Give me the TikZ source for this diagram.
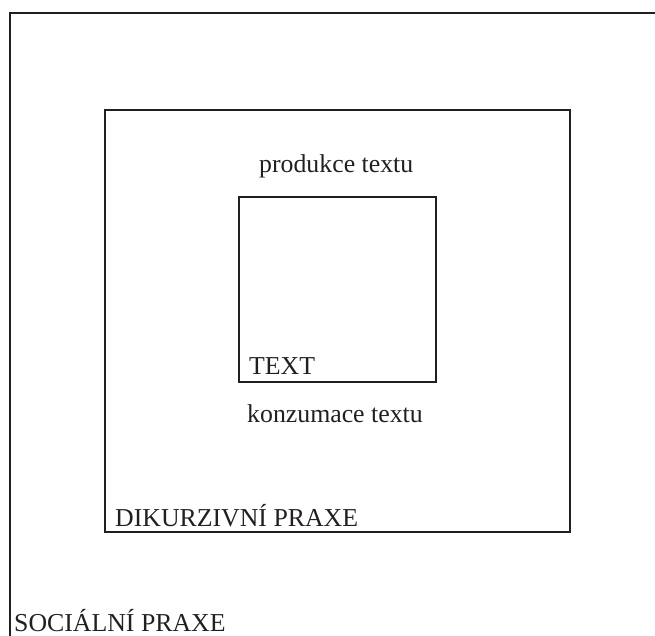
\documentclass[tikz,border=0pt]{standalone}
\usepackage{fontspec}
\setmainfont{Liberation Serif}
\definecolor{ink}{HTML}{231F20}
\begin{document}
\begin{tikzpicture}[x=1pt,y=-1pt,
  frame/.style={draw=ink, line width=1.7pt},
  lbl/.style={inner sep=0, anchor=base west, font=\fontsize{25.8}{30}\selectfont, text=ink}]
\useasboundingbox (0,0) rectangle (655,636);
% outer (social practice), cropped at right and bottom
\coordinate (otr) at (656,13);
\coordinate (otl) at (10,13);
\coordinate (obl) at (10,637);
\draw[frame] (otr) -- (otl) -- (obl);
% discursive practice
\draw[frame] (105,110) rectangle (570,532);
% text
\draw[frame] (239,197) rectangle (436,382);
\node[lbl] (prod) at (259,173) {produkce textu};
\node[lbl] (txt) at (249,374) {TEXT};
\node[lbl] (konz) at (247,422) {konzumace textu};
\node[lbl] (dik) at (115,526) {DIKURZIVNÍ PRAXE};
\node[lbl] (soc) at (14,631) {SOCIÁLNÍ PRAXE};
\end{tikzpicture}
\end{document}
